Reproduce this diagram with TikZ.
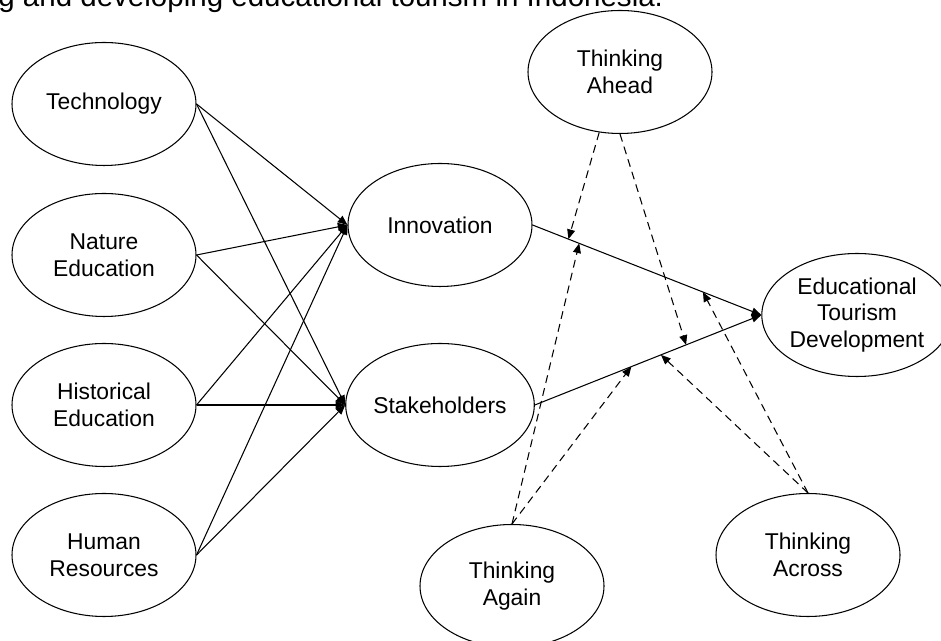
\documentclass[tikz,border=0pt]{standalone}
\usepackage{fontspec}
\setmainfont{Liberation Sans}
\usetikzlibrary{shapes.geometric,arrows.meta}

\begin{document}
\begin{tikzpicture}[
			factor/.style={ellipse, draw=black, line width=0.6pt, fill=white, minimum width=3.68cm, minimum height=2.46cm, inner sep=0pt, align=center, font=\fontsize{13}{15.3}\selectfont},
			link/.style={line width=0.6pt, -{Triangle[length=5.5pt,width=4.5pt]}},
			thinklink/.style={link, dash pattern=on 4.5pt off 3pt},
			]
			\useasboundingbox (0,0) rectangle (18.82,12.82);
			%Caption
				\node[anchor=base west, inner sep=0pt, font=\fontsize{16.8}{20}\selectfont] (caption) at (-0.04,12.69) {g and developing educational tourism in Indonesia.};
			%Nodes
				\node[factor]		(tech)		at (2.08,10.74)		{Technology};
				\node[factor]		(nature)	at (2.08,7.72)		{Nature\\Education};
				\node[factor]		(hist)		at (2.08,4.72)		{Historical\\Education};
				\node[factor]		(human)		at (2.08,1.72)		{Human\\Resources};
				\node[factor]		(innov)		at (8.80,8.32)		{Innovation};
				\node[factor]		(stake)		at (8.80,4.72)		{Stakeholders};
				\node[factor]		(etd)		at (17.14,6.52)		{Educational\\Tourism\\Development};
				\node[factor]		(ahead)		at (12.40,11.38)	{Thinking\\Ahead};
				\node[factor]		(again)		at (10.24,1.10)		{Thinking\\Again};
				\node[factor]		(across)	at (16.16,1.72)		{Thinking\\Across};

			%Lines
				\draw[link] (tech.east) -- (innov.west);
				\draw[link] (tech.east) -- (stake.west);
				\draw[link] (nature.east) -- (innov.west);
				\draw[link] (nature.east) -- (stake.west);
				\draw[link] (hist.east) -- (innov.west);
				\draw[link] (hist.east) -- (stake.west);
				\draw[link] (human.east) -- (innov.west);
				\draw[link] (human.east) -- (stake.west);
				\draw[link] (innov.east) -- (etd.west);
				\draw[link] (stake.east) -- (etd.west);

			%Points where the dashed lines meet
				\path (innov.east) -- (etd.west) coordinate[pos=0.157] (innov-a) coordinate[pos=0.204] (innov-b) coordinate[pos=0.745] (innov-c);
				\path (stake.east) -- (etd.west) coordinate[pos=0.426] (stake-a) coordinate[pos=0.557] (stake-b) coordinate[pos=0.668] (stake-c);

			%Dashed lines
				\draw[thinklink] (ahead.251) -- (innov-a);
				\draw[thinklink] (ahead.270) -- (stake-c);
				\draw[thinklink] (again.north) -- (innov-b);
				\draw[thinklink] (again.north) -- (stake-a);
				\draw[thinklink] (across.north) -- (innov-c);
				\draw[thinklink] (across.north) -- (stake-b);
		\end{tikzpicture}
\end{document}
